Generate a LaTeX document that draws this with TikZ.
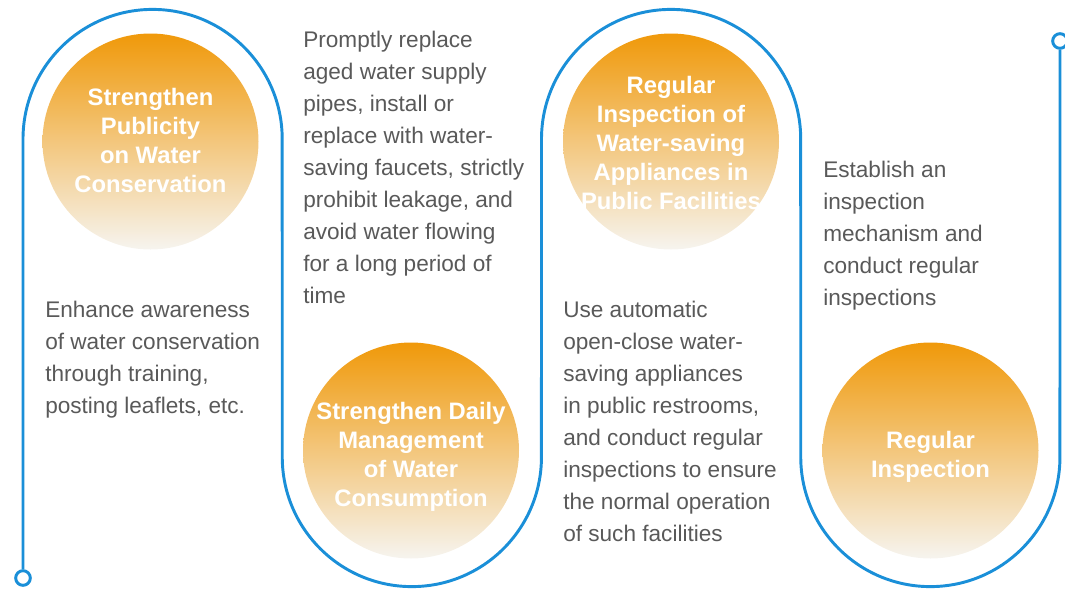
\documentclass[tikz,border=0pt]{standalone}
\usepackage{fontspec}
\setmainfont{Liberation Sans}
\usetikzlibrary{positioning}
\definecolor{SnakeBlue}{HTML}{1A8FD8}
\definecolor{DiscTop}{HTML}{F0990A}
\definecolor{DiscMid}{HTML}{F2BA60}
\definecolor{DiscLow}{HTML}{F6F4EF}
\definecolor{BodyGray}{HTML}{595959}

\begin{document}
\begin{tikzpicture}[x=0.75pt,y=-0.75pt,
  disc/.style={circle,minimum size=162pt,inner sep=0pt,top color=DiscTop,middle color=DiscMid,bottom color=DiscLow},
  ttl/.style={text=white,align=center,inner sep=0pt,font=\bfseries\fontsize{17.85}{21.75}\selectfont},
  body/.style={text=BodyGray,align=left,anchor=base west,inner sep=0pt,font=\fontsize{16.95}{24}\selectfont},
  tip/.style={circle,draw=SnakeBlue,line width=2.2pt,fill=white,minimum size=11pt,inner sep=0pt}]
  \useasboundingbox (0,0) rectangle (1065,594);
  % the winding line
  \node[tip] (start) at (23,578) {};
  \node[tip] (stop) at (1060,41) {};
  \draw[SnakeBlue,line width=2.2pt] (start.north) -- (23,139) arc[start angle=180,end angle=360,radius=129.6]
    -- (282.25,457) arc[start angle=180,end angle=0,radius=129.6]
    -- (541.5,139) arc[start angle=180,end angle=360,radius=129.6]
    -- (800.75,457) arc[start angle=180,end angle=0,radius=129.6] -- (stop.south);
  % discs
  \node[disc] (d1) at (150.5,141.5) {};
  \node[disc] (d2) at (411,450.5) {};
  \node[disc] (d3) at (671,141.5) {};
  \node[disc] (d4) at (930.5,450.5) {};
  \node[ttl,yshift=1pt] (t1) at (d1) {Strengthen\\Publicity\\on Water\\Conservation};
  \node[ttl,yshift=-5pt] (t2) at (d2) {Strengthen Daily\\Management\\of Water\\Consumption};
  \node[ttl,yshift=-1pt] (t3) at (d3) {Regular\\Inspection of\\Water-saving\\Appliances in\\Public Facilities};
  \node[ttl,yshift=-5pt] (t4) at (d4) {Regular\\Inspection};
  % descriptions (base = last line)
  \node[body] (b1) at (45,413) {Enhance awareness\\of water conservation\\through training,\\posting leaflets, etc.};
  \node[body] (b2) at (303,303) {Promptly replace\\aged water supply\\pipes, install or\\replace with water-\\saving faucets, strictly\\prohibit leakage, and\\avoid water flowing\\for a long period of\\time};
  \node[body] (b3) at (563,541) {Use automatic\\open-close water-\\saving appliances\\in public restrooms,\\and conduct regular\\inspections to ensure\\the normal operation\\of such facilities};
  \node[body] (b4) at (823,305) {Establish an\\inspection\\mechanism and\\conduct regular\\inspections};
\end{tikzpicture}
\end{document}
